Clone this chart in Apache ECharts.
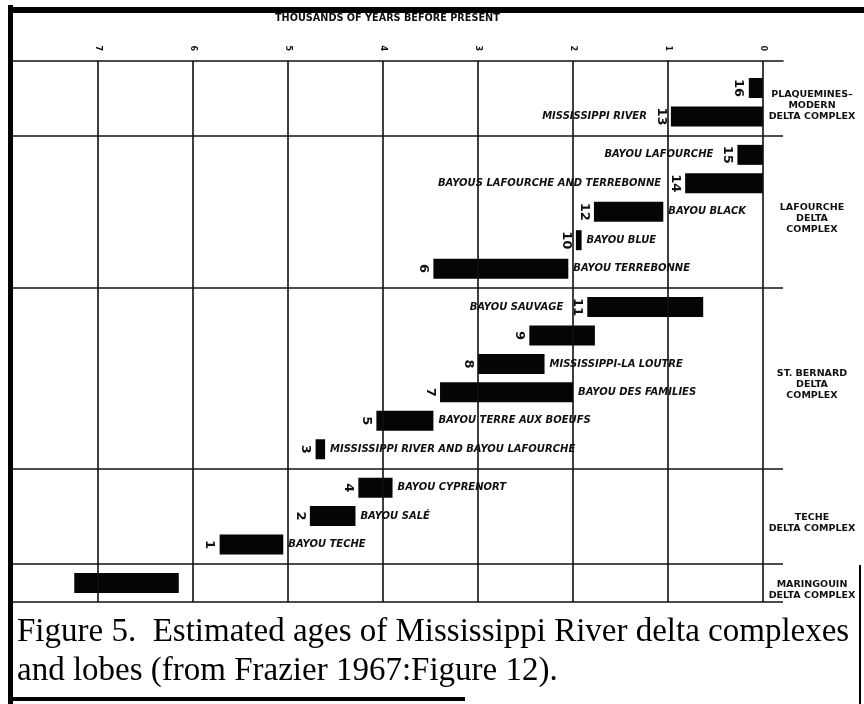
<!DOCTYPE html>
<html>
<head>
<meta charset="utf-8">
<script src="https://cdn.jsdelivr.net/npm/echarts@6/dist/echarts.min.js"></script>
<style>
  html, body { margin: 0; padding: 0; background: #fff; }
  #chart { width: 864px; height: 704px; }
</style>
</head>
<body>
<div id="chart"></div>
<script>
// delta complexes, top to bottom, and how many lobes each holds
const complexNames = [
  'PLAQUEMINES\u2013\nMODERN\nDELTA COMPLEX',
  'LAFOURCHE\nDELTA\nCOMPLEX',
  'ST. BERNARD\nDELTA\nCOMPLEX',
  'TECHE\nDELTA COMPLEX',
  'MARINGOUIN\nDELTA COMPLEX'
];
const complexSizes = [2, 5, 6, 3, 1];

// lobes, in drawing order
const lobeIds = ['16', '13', '15', '14', '12', '10', '6', '11', '9', '8', '7', '5', '3', '4', '2', '1', ''];
const lobeNames = [
  '', 'MISSISSIPPI RIVER',
  'BAYOU LAFOURCHE', 'BAYOUS LAFOURCHE AND TERREBONNE', 'BAYOU BLACK', 'BAYOU BLUE', 'BAYOU TERREBONNE',
  'BAYOU SAUVAGE', '', 'MISSISSIPPI-LA LOUTRE', 'BAYOU DES FAMILIES', 'BAYOU TERRE AUX BOEUFS',
  'MISSISSIPPI RIVER AND BAYOU LAFOURCHE',
  'BAYOU CYPRENORT', 'BAYOU SAL\u00c9', 'BAYOU TECHE',
  ''
];
const nameSide = ['', 'left', 'left', 'left', 'right', 'right', 'right', 'left', '', 'right', 'right', 'right', 'right', 'right', 'right', 'right', ''];
// thousands of years before present
const lobeYoung = [0, 0, 0, 0, 1.05, 1.91, 2.05, 0.63, 1.77, 2.3, 2.0, 3.47, 4.61, 3.9, 4.29, 5.05, 6.15];
const lobeOld = [0.15, 0.97, 0.27, 0.82, 1.78, 1.97, 3.47, 1.85, 2.46, 3.0, 3.4, 4.07, 4.71, 4.26, 4.77, 5.72, 7.25];

const ageTicks = [0, 1, 2, 3, 4, 5, 6, 7];

const titleText = 'THOUSANDS OF YEARS BEFORE PRESENT';
const captionLines = [
  'Figure 5.  Estimated ages of Mississippi River delta complexes',
  'and lobes (from Frazier 1967:Figure 12).'
];

// row positions: one unit per lobe, a little extra between complexes
const rowPos = [];
const dividers = [0];
let r = 0;
complexSizes.forEach(function (n, g) {
  for (let k = 0; k < n; k++) {
    rowPos.push(r + g * 0.35 + 0.95);
    r++;
  }
  dividers.push(rowPos[rowPos.length - 1] + 0.67);
});
const yMax = dividers[dividers.length - 1];

const ink = '#101010';
const labelFont = 'DejaVu Sans';

function renderLobe(params, api) {
  const i = params.dataIndex;
  const left = api.coord([api.value(1), api.value(2)]);
  const right = api.coord([api.value(0), api.value(2)]);
  const h = 20;
  const children = [{
    type: 'rect',
    shape: { x: left[0], y: left[1] - h / 2, width: right[0] - left[0], height: h },
    style: { fill: '#050505' }
  }];
  if (lobeIds[i]) {
    children.push({
      type: 'text',
      x: left[0] - 10,
      y: left[1],
      rotation: -Math.PI / 2,
      style: {
        text: lobeIds[i], fill: ink, align: 'center', verticalAlign: 'middle',
        font: 'bold 13px "DejaVu Sans"'
      }
    });
  }
  if (lobeNames[i]) {
    const onLeft = nameSide[i] === 'left';
    children.push({
      type: 'text',
      x: onLeft ? left[0] - 24 : right[0] + 5,
      y: left[1],
      style: {
        text: lobeNames[i], fill: ink, align: onLeft ? 'right' : 'left', verticalAlign: 'middle',
        font: 'italic bold 10px "DejaVu Sans"'
      }
    });
  }
  return { type: 'group', children: children };
}

function renderComplex(params, api) {
  const g = params.dataIndex;
  const mid = (dividers[g] + dividers[g + 1]) / 2;
  const p = api.coord([0, mid]);
  return {
    type: 'text',
    x: 812,
    y: p[1] + 7,
    style: {
      text: complexNames[g], fill: ink, align: 'center', verticalAlign: 'middle',
      font: 'bold 9.5px "DejaVu Sans"', lineHeight: 11
    }
  };
}

const lineStyle = { color: ink, width: 1.6, type: 'solid' };

const chart = echarts.init(document.getElementById('chart'), null, { renderer: 'canvas' });
const option = {
  backgroundColor: '#fff',
  animation: false,
  title: {
    text: titleText,
    left: 275,
    top: 13,
    padding: 0,
    textStyle: { fontFamily: labelFont, fontSize: 9.7, fontWeight: 'bold', color: ink }
  },
  grid: { left: 13, right: 81, top: 61, bottom: 102 },
  xAxis: {
    type: 'value',
    position: 'top',
    inverse: true,
    min: -0.21,
    max: 7.895,
    axisLine: { show: true, lineStyle: { color: ink, width: 1.6 } },
    axisTick: { show: false },
    splitLine: { show: false },
    axisLabel: {
      customValues: ageTicks,
      rotate: -90,
      margin: 10,
      fontSize: 8,
      fontWeight: 'bold',
      fontFamily: labelFont,
      color: ink
    }
  },
  yAxis: {
    type: 'value',
    inverse: true,
    min: 0,
    max: yMax,
    show: false
  },
  series: [
    {
      name: 'grid',
      type: 'line',
      data: [],
      silent: true,
      markLine: {
        silent: true,
        symbol: ['none', 'none'],
        label: { show: false },
        lineStyle: lineStyle,
        data: ageTicks.map(function (t) { return { xAxis: t }; })
          .concat(dividers.slice(1).map(function (d) { return { yAxis: d }; }))
      }
    },
    {
      name: 'lobes',
      type: 'custom',
      renderItem: renderLobe,
      encode: { x: [0, 1], y: 2 },
      data: lobeYoung.map(function (y, i) { return [y, lobeOld[i], rowPos[i]]; })
    },
    {
      name: 'complexes',
      type: 'custom',
      renderItem: renderComplex,
      data: complexNames.map(function (n, g) { return [0, (dividers[g] + dividers[g + 1]) / 2]; })
    }
  ],
  graphic: [
    { type: 'rect', shape: { x: 8, y: 5, width: 5, height: 699 }, style: { fill: '#000' } },
    { type: 'rect', shape: { x: 8, y: 7, width: 856, height: 6 }, style: { fill: '#000' } },
    { type: 'rect', shape: { x: 8, y: 697, width: 457, height: 4 }, style: { fill: '#000' } },
    { type: 'rect', shape: { x: 859, y: 565, width: 2, height: 139 }, style: { fill: '#000' } },
    {
      type: 'text', x: 17, y: 632,
      style: { text: captionLines[0], fill: '#000', verticalAlign: 'middle', font: '33px "Liberation Serif"' }
    },
    {
      type: 'text', x: 17, y: 671,
      style: { text: captionLines[1], fill: '#000', verticalAlign: 'middle', font: '33px "Liberation Serif"' }
    }
  ]
};
chart.setOption(option);
</script>
</body>
</html>
